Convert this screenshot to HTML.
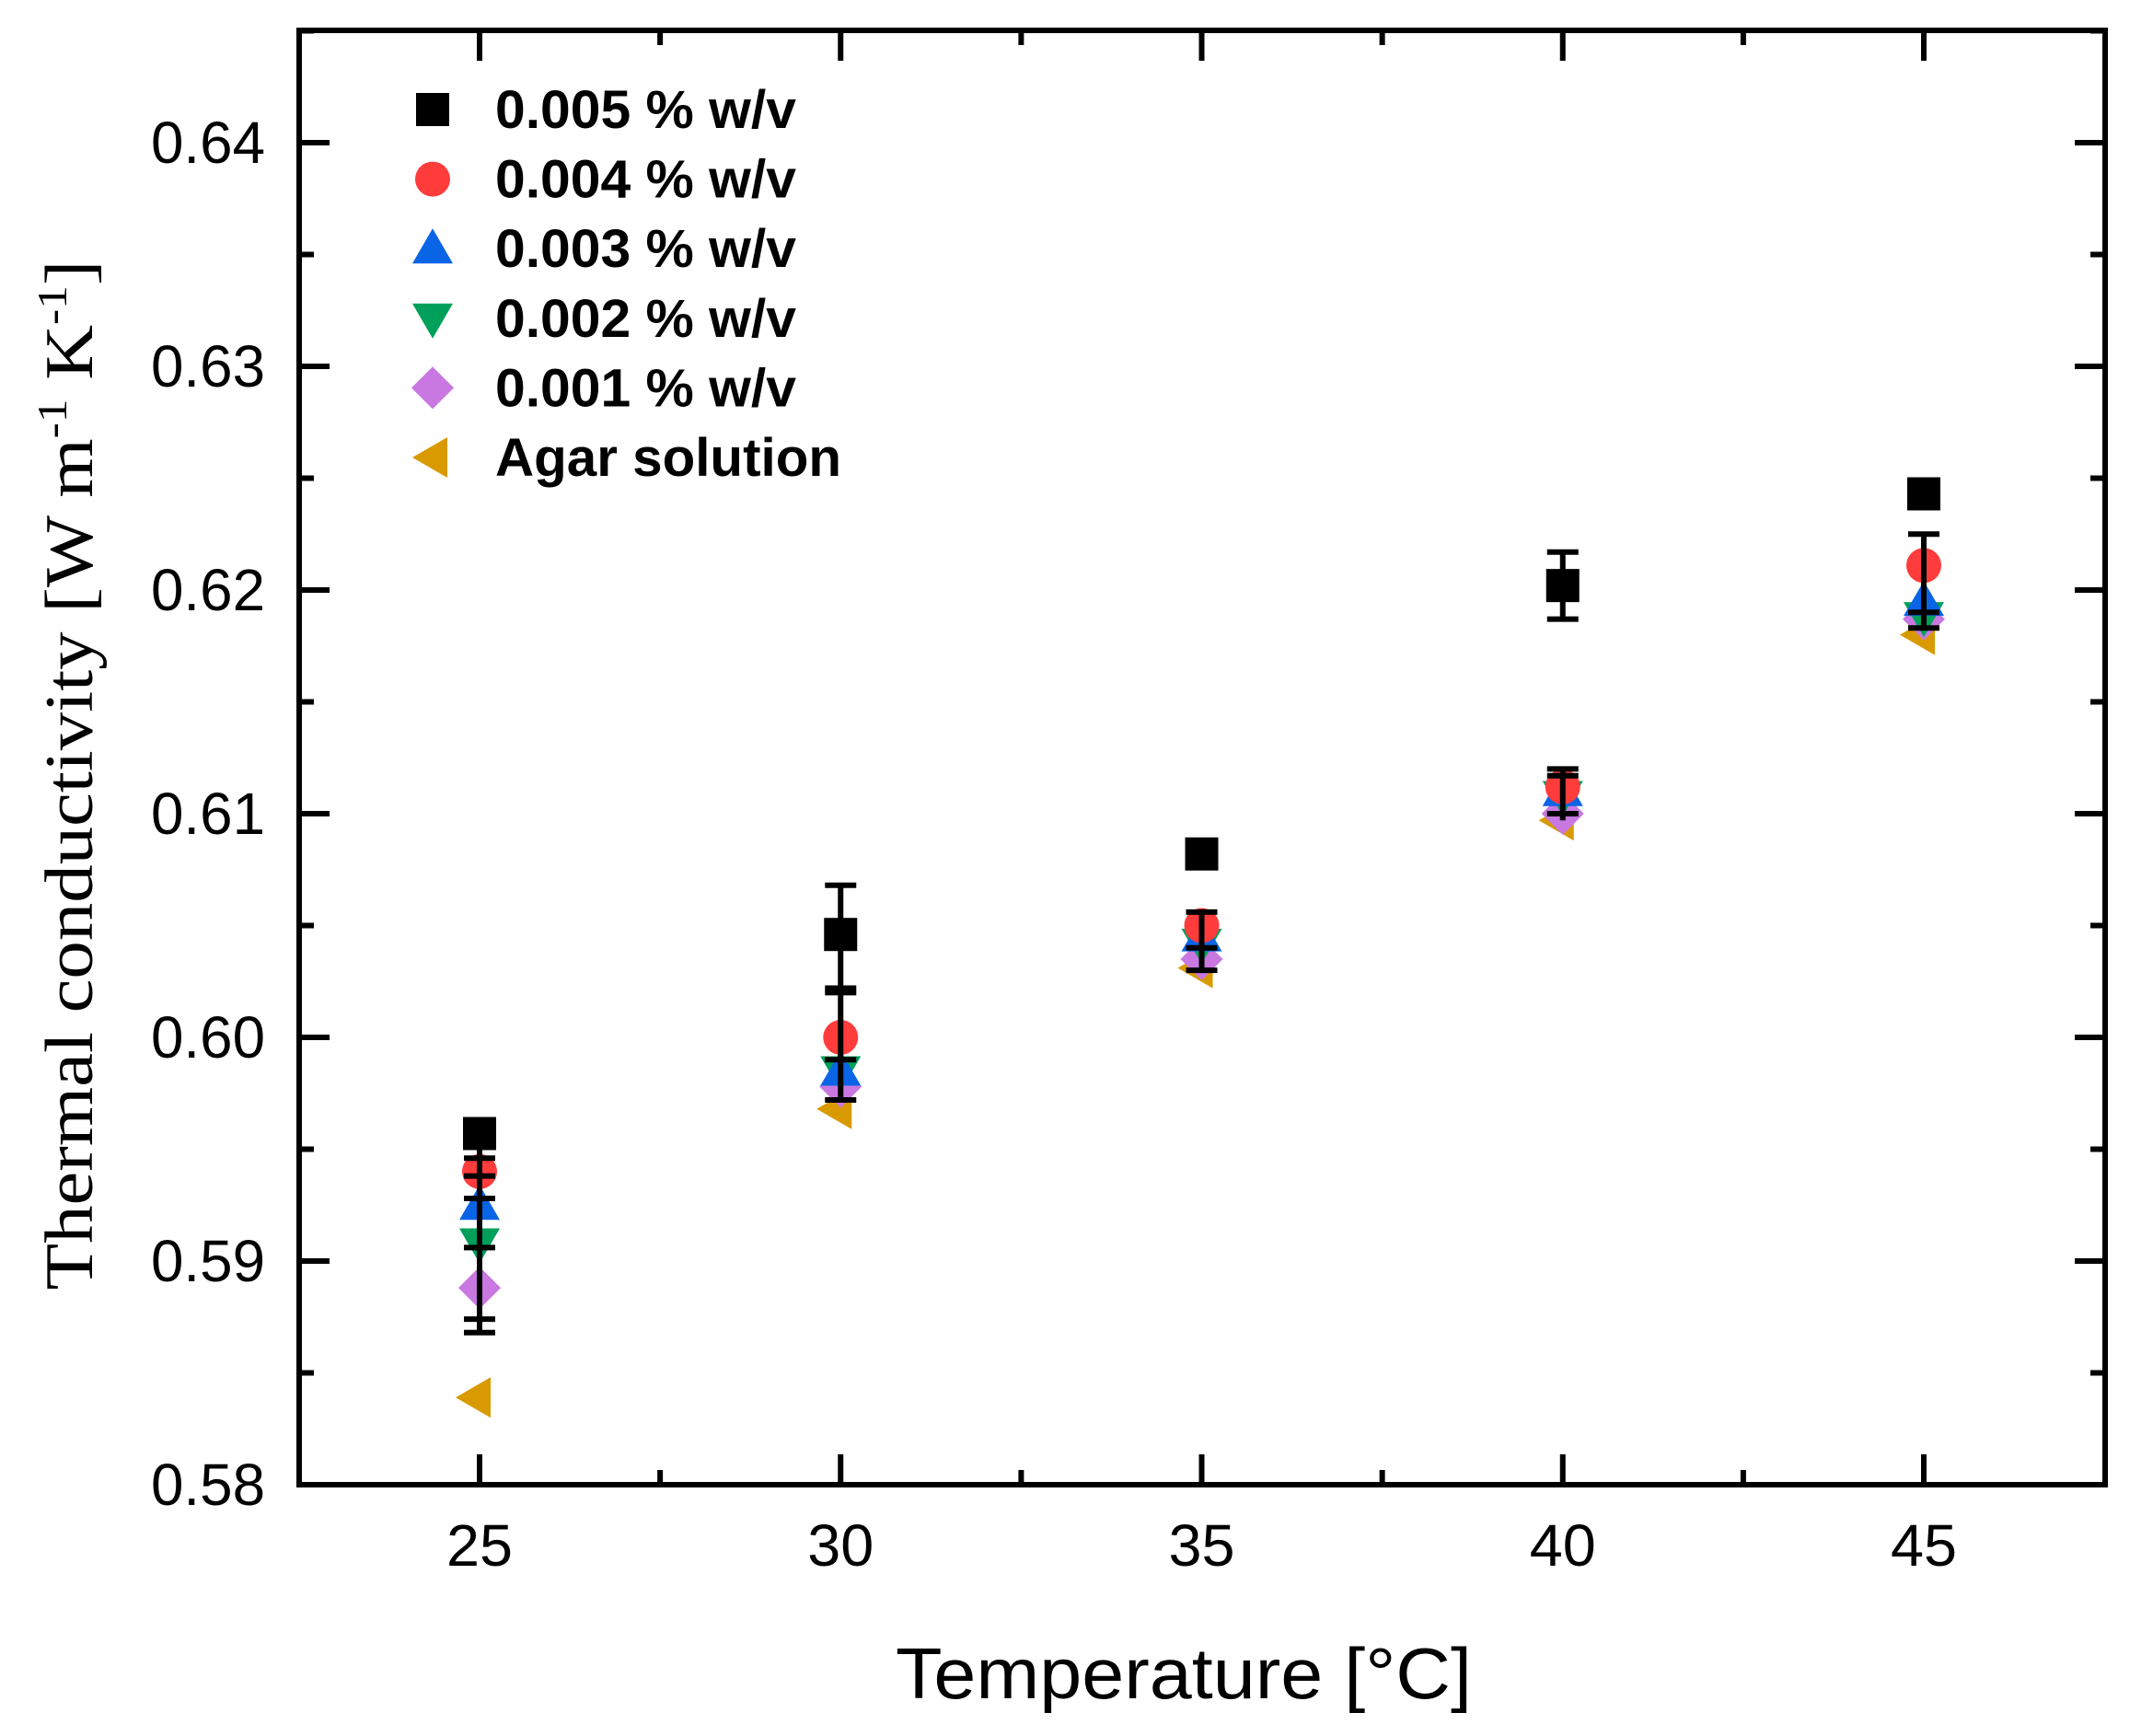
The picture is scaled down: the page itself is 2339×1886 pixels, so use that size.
<!DOCTYPE html>
<html><head><meta charset="utf-8"><style>html,body{margin:0;padding:0;background:#fff}svg{display:block}</style></head>
<body>
<svg id="s" width="2339" height="1886" xmlns="http://www.w3.org/2000/svg" font-family="Liberation Sans, sans-serif"></svg>
<script>
const L=325,R=2287,T=33,B=1613;
const X=t=>521+(t-25)*78.45, Y=v=>1613-(v-0.58)*24300;
let h='';
h+=`<rect x="${L}" y="${T}" width="${R-L}" height="${B-T}" fill="none" stroke="#000" stroke-width="6"/>`;
for(let i=0;i<=13;i++){const v=0.58+i*0.005;const y=Y(v);const maj=i%2==0;const len=maj?33:16;
 h+=`<line x1="${L}" y1="${y}" x2="${L+len}" y2="${y}" stroke="#000" stroke-width="6"/><line x1="${R}" y1="${y}" x2="${R-len}" y2="${y}" stroke="#000" stroke-width="6"/>`;
 if(maj&&i<=12)h+=`<text x="288" y="${y+22}" font-size="64" text-anchor="end" textLength="124" lengthAdjust="spacingAndGlyphs">${v.toFixed(2)}</text>`;}
for(let i=0;i<=8;i++){const t=25+i*2.5;const x=X(t);const maj=i%2==0;const len=maj?33:16;
 h+=`<line x1="${x}" y1="${B}" x2="${x}" y2="${B-len}" stroke="#000" stroke-width="6"/><line x1="${x}" y1="${T}" x2="${x}" y2="${T+len}" stroke="#000" stroke-width="6"/>`;
 if(maj)h+=`<text x="${x}" y="1701" font-size="64" text-anchor="middle" textLength="72" lengthAdjust="spacingAndGlyphs">${t}</text>`;}
h+=`<text x="1286" y="1845" font-size="78" text-anchor="middle" textLength="626" lengthAdjust="spacingAndGlyphs">Temperature [°C]</text>`;
h+=`<text transform="translate(100,842) rotate(-90)" font-family="Liberation Serif, serif" font-size="74" text-anchor="middle" textLength="1119" lengthAdjust="spacingAndGlyphs">Thermal conductivity [W m<tspan dy="-28" font-size="46">-1</tspan><tspan dy="28"> K</tspan><tspan dy="-28" font-size="46">-1</tspan><tspan dy="28">]</tspan></text>`;
const C=['#000','#ff3c3c','#0a64e6','#00a05a','#c878e0','#d89a00'];
function mk(k,x,y){const s=18,c=C[k];
 if(k==0)return `<rect x="${x-s}" y="${y-s}" width="${2*s}" height="${2*s}" fill="${c}"/>`;
 if(k==1)return `<circle cx="${x}" cy="${y}" r="${s+1}" fill="${c}"/>`;
 if(k==2)return `<polygon points="${x},${y-22} ${x-22},${y+16} ${x+22},${y+16}" fill="${c}"/>`;
 if(k==3)return `<polygon points="${x},${y+22} ${x-22},${y-16} ${x+22},${y-16}" fill="${c}"/>`;
 if(k==4)return `<polygon points="${x},${y-23} ${x+23},${y} ${x},${y+23} ${x-23},${y}" fill="${c}"/>`;
 return `<polygon points="${x-22},${y} ${x+16},${y-22} ${x+16},${y+22}" fill="${c}"/>`;}
const D=[
 [25,[0.5957,0.594,0.5925,0.5908,0.5888,0.5839],[[0.5868,0.5957]],[0.5946,0.5938,0.5928,0.5906,0.5874,0.5868]],
 [30,[0.6046,0.6000,0.5985,0.5985,0.5978,0.5968],[[0.5972,0.6068]],[0.6068,0.6022,0.6020,0.5990,0.5972]],
 [35,[0.6082,0.6050,0.6045,0.6042,0.6035,0.6031],[[0.6078,0.6085],[0.6030,0.6056]],[0.6085,0.6056,0.6040,0.6030]],
 [40,[0.6202,0.6112,0.6110,0.6108,0.6100,0.6097],[[0.6187,0.6217],[0.6097,0.6120]],[0.6217,0.6187,0.6120,0.6117,0.6100]],
 [45,[0.6243,0.6211,0.6195,0.6188,0.6187,0.6180],[[0.6240,0.6246],[0.6183,0.6225]],[0.6245,0.6225,0.6190,0.6183]]];
for(const [t,vals,segs,caps] of D){const x=X(t);
 for(let k=5;k>=0;k--)h+=mk(k,k==5?x-4:x,Y(vals[k]));
 for(const [a,b] of segs)h+=`<line x1="${x}" y1="${Y(a)}" x2="${x}" y2="${Y(b)}" stroke="#000" stroke-width="6"/>`;
 for(const c of caps)h+=`<line x1="${x-17}" y1="${Y(c)}" x2="${x+17}" y2="${Y(c)}" stroke="#000" stroke-width="6"/>`;
}
const lab=['0.005 % w/v','0.004 % w/v','0.003 % w/v','0.002 % w/v','0.001 % w/v','Agar solution'];
for(let k=0;k<6;k++){const y=119+k*75.6;h+=mk(k,470,y);
 h+=`<text x="538" y="${y+20}" font-size="58" font-weight="bold" textLength="${k==5?376:327}" lengthAdjust="spacingAndGlyphs">${lab[k]}</text>`;}
document.getElementById('s').innerHTML=h;
</script>
</body></html>
